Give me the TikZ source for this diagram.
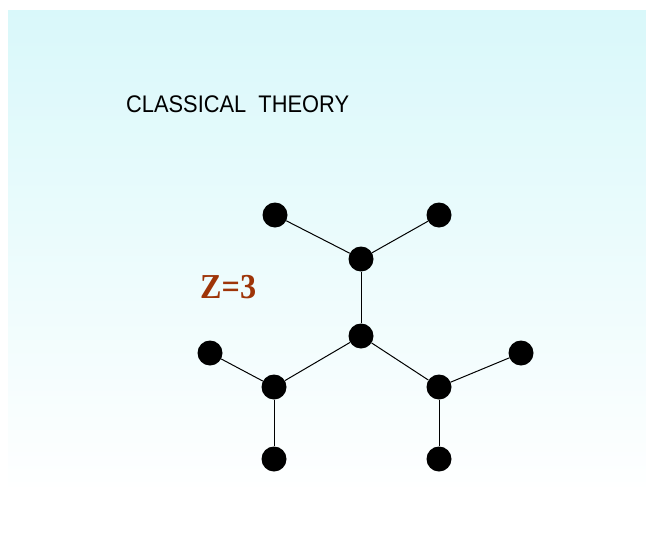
\documentclass[tikz,border=0pt]{standalone}
\usepackage{fontspec}
\setmainfont{Liberation Serif}
\setsansfont{Liberation Sans}
\begin{document}
\begin{tikzpicture}[x=1pt, y=-1pt,
    atom/.style={circle, fill=black, inner sep=0pt, minimum size=25pt},
    bond/.style={black, line width=1pt},
  ]
  \definecolor{sky}{RGB}{217,248,250}
  \definecolor{zred}{RGB}{158,52,8}
  \useasboundingbox (0,0) rectangle (646,552);

  % Hintergrund mit Verlauf nach weiss
  \shade[top color=sky, bottom color=white!97!sky] (8,10) rectangle (646,486);

  % Titel und Koordinationszahl
  \node[anchor=base west, inner sep=0pt, font=\sffamily\fontsize{24}{28}\selectfont] (title) at (126,112)
    {\scalebox{0.91}[1]{CLASSICAL\ \ THEORY}};
  \node[anchor=base west, inner sep=0pt, font=\bfseries\fontsize{35}{40}\selectfont, text=zred] (zlabel) at (200,298)
    {\scalebox{0.92}[1]{Z=3}};

  % ---------------- Baum (Bethe-Gitter) ---------------------------
  \node[atom] (c)  at (361,336) {};
  \node[atom] (u)  at (361,259) {};
  \node[atom] (ul) at (275,215) {};
  \node[atom] (ur) at (439,215) {};
  \node[atom] (l)  at (274,387) {};
  \node[atom] (r)  at (439,387) {};
  \node[atom] (ll) at (210,353) {};
  \node[atom] (lb) at (274,459) {};
  \node[atom] (rr) at (521,353) {};
  \node[atom] (rb) at (439,459) {};

  \foreach \a/\b in {c/u, u/ul, u/ur, c/l, c/r, l/ll, l/lb, r/rr, r/rb}
    \draw[bond] (\a) -- (\b);
\end{tikzpicture}
\end{document}
